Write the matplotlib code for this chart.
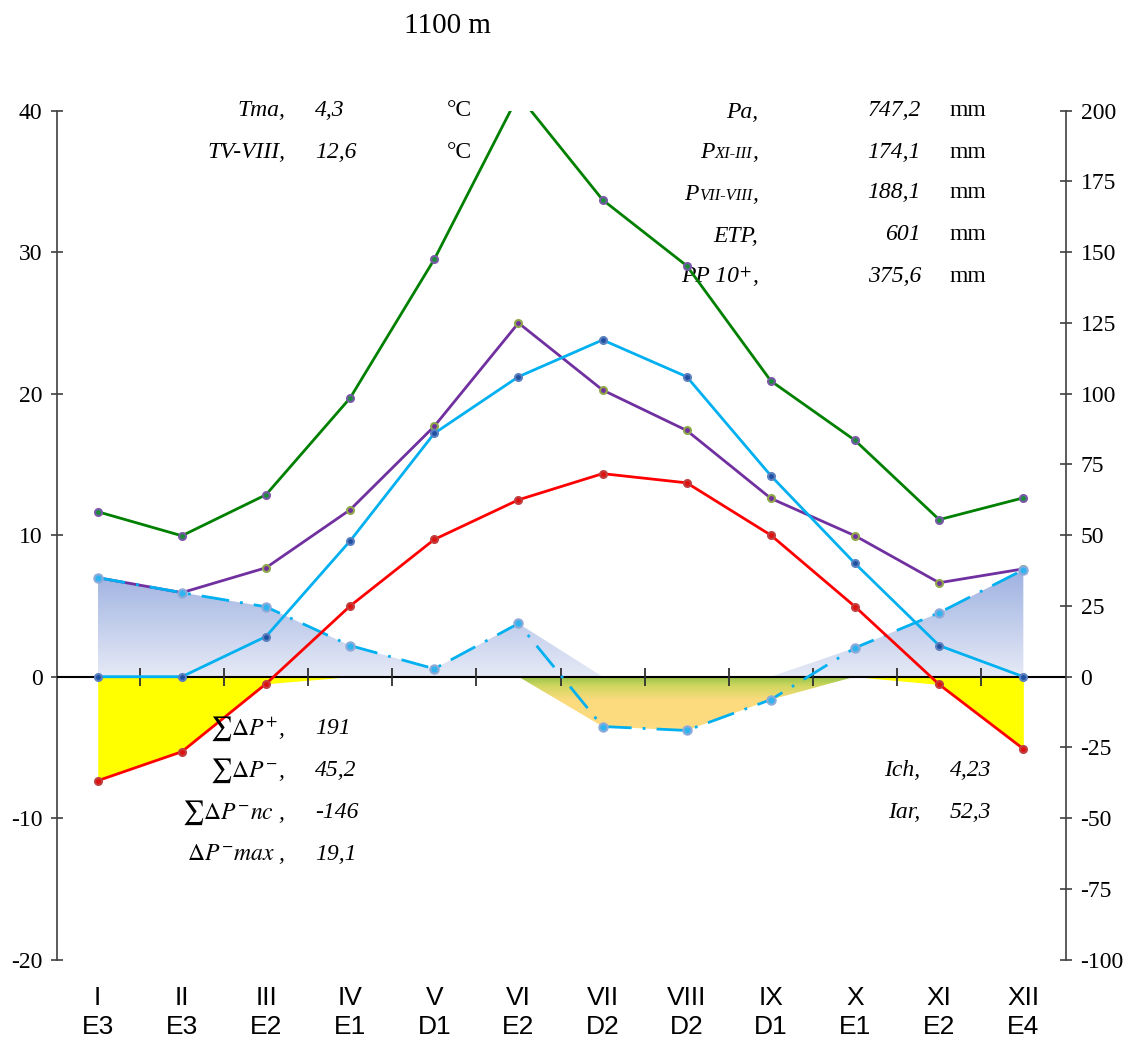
import numpy as np
import matplotlib
matplotlib.use("Agg")
import matplotlib.pyplot as plt
import matplotlib.transforms as mtransforms
from matplotlib.colors import LinearSegmentedColormap
from matplotlib.offsetbox import TextArea, HPacker, AnnotationBbox

plt.rcParams['mathtext.fontset'] = 'stix'
plt.rcParams['axes.unicode_minus'] = False

# ---- data ----
months = ["I", "II", "III", "IV", "V", "VI", "VII", "VIII", "IX", "X", "XI", "XII"]
zones = ["E3", "E3", "E2", "E1", "D1", "E2", "D2", "D2", "D1", "E1", "E2", "E4"]
temp = [-7.35, -5.3, -0.5, 5.0, 9.7, 12.5, 14.35, 13.7, 10.0, 4.95, -0.55, -5.1]        # °C, left axis
precip = [35.0, 29.7, 38.5, 59.0, 88.5, 125.0, 101.3, 87.0, 63.0, 49.8, 33.2, 38.1]     # mm, right axis
etp = [0.0, 0.0, 14.2, 48.0, 86.0, 106.0, 119.0, 106.0, 71.0, 40.0, 11.0, 0.0]         # mm
upper = [58.3, 49.8, 64.3, 98.5, 147.5, 205.5, 168.5, 145.2, 104.5, 83.5, 55.5, 63.2]  # mm
balance = [35.0, 29.7, 24.7, 11.0, 2.8, 18.8, -17.6, -19.0, -8.1, 10.2, 22.6, 37.8]    # mm

title = "1100 m"
left_top = [("Tma,", "4,3", "°C"), ("TV-VIII,", "12,6", "°C")]
right_top = [([("Pa,", 17)], "747,2"),
             ([("P", 17), ("XI-III", 12), (",", 17)], "174,1"),
             ([("P", 17), ("VII-VIII", 12), (",", 17)], "188,1"),
             ([("ETP,", 17)], "601"),
             ([("PP 10", 17), (r"$^{+}$", 17), (",", 17)], "375,6")]
left_bottom = [(r"$\sum\Delta P^{+}$,", "191"), (r"$\sum\Delta P^{-}$,", "45,2"),
               (r"$\sum\Delta P^{-}nc$ ,", "-146"), (r"$\Delta P^{-}max$ ,", "19,1")]
right_bottom = [("Ich,", "4,23"), ("Iar,", "52,3")]

W, H = 1126, 1040
fig = plt.figure(figsize=(W / 100, H / 100), dpi=100)
ax = fig.add_axes([57 / W, 1 - 959.7 / H, (1066 - 57) / W, (959.7 - 110.7) / H])
axp = ax.twinx()

x = np.arange(len(months))
ax.set_xlim(-0.484, 11.507)
ax.set_ylim(-20, 40)
axp.set_ylim(-100, 200)
axp.set_xlim(ax.get_xlim())

# temperature drawn on the precip axis with the 1 °C : 5 mm scale
t_trans = mtransforms.Affine2D().scale(1, 5) + axp.transData

# blue gradient (surplus)
pos = np.clip(balance, 0, None)
poly = axp.fill_between(x, 0, pos, color='none', lw=0)
blue = LinearSegmentedColormap.from_list("b", ["#e6eaf6", "#9eb1e1"])
im = axp.imshow(np.linspace(0, 1, 256).reshape(-1, 1), extent=[x[0], x[-1], 0, max(pos)],
                origin='lower', cmap=blue, aspect='auto', zorder=1)
im.set_clip_path(poly.get_paths()[0], axp.transData)

# green-yellow gradient (deficit)
neg = np.clip(balance, None, 0)
poly2 = axp.fill_between(x, 0, neg, color='none', lw=0)
gy = LinearSegmentedColormap.from_list("g", [(0, "#fddc82"), (0.55, "#fcdb7e"),
                                             (0.82, "#d0d660"), (1, "#92c446")])
im2 = axp.imshow(np.linspace(0, 1, 256).reshape(-1, 1), extent=[x[0], x[-1], min(neg), 0],
                 origin='lower', cmap=gy, aspect='auto', zorder=1)
im2.set_clip_path(poly2.get_paths()[0], axp.transData)

# yellow (frost) fill
axp.fill_between(x, 0, np.minimum(temp, 0), color='#ffff00', lw=0, zorder=1.2, transform=t_trans)

axp.set_xlim(ax.get_xlim())
axp.set_ylim(-100, 200)

# zero line and month separators
axp.axhline(0, color='black', lw=1.5, zorder=2)
axp.vlines(np.arange(0.5, 11), -3.2, 3.2, color='#303030', lw=1.3, zorder=2)

ms = 5
axp.plot(x, upper, color='#008000', lw=2, marker='o', ms=ms, mfc='#1a8c3a', mec='#7a5aa8', mew=1.5, zorder=3)
axp.plot(x, precip, color='#7030a0', lw=2, marker='o', ms=ms, mfc='#7030a0', mec='#8fa84a', mew=1.5, zorder=3)
axp.plot(x, balance, color='#00b0f0', lw=2, ls=(0, (10, 4, 1, 4)), marker='o', ms=ms + 1,
         mfc='#30b4f0', mec='#8faad8', mew=1.5, zorder=3)
axp.plot(x, etp, color='#00b0f0', lw=2, marker='o', ms=ms, mfc='#2050a0', mec='#5a80c0', mew=1.5, zorder=3.5)
axp.plot(x, temp, color='#ff0000', lw=2, marker='o', ms=ms, mfc='#e01010', mec='#c04040', mew=1.5,
         zorder=4, transform=t_trans)

# axes styling
for a in (ax, axp):
    for s in ('top', 'bottom'):
        a.spines[s].set_visible(False)
    a.set_xticks([])
ax.spines['right'].set_visible(False)
axp.spines['left'].set_visible(False)
ax.spines['left'].set_color('#404040')
axp.spines['right'].set_color('#404040')
ax.spines['left'].set_linewidth(1.2)
axp.spines['right'].set_linewidth(1.2)
ax.set_yticks(np.arange(-20, 41, 10))
axp.set_yticks(np.arange(-100, 201, 25))
for a in (ax, axp):
    a.tick_params(axis='y', direction='inout', length=9, width=1.2, color='#404040', pad=6,
                  labelsize=17, labelfontfamily='Liberation Serif')

# month labels
bt = mtransforms.blended_transform_factory(ax.transData, ax.transAxes)
for i, (m, z) in enumerate(zip(months, zones)):
    ax.text(i, -0.0451, m, transform=bt, ha='center', va='center', fontsize=19, family='Liberation Sans')
    ax.text(i, -0.0793, z, transform=bt, ha='center', va='center', fontsize=19, family='Liberation Sans')

def fp(px, py):
    return px / W, 1 - py / H

serif = dict(family='Liberation Serif', fontsize=17)
fig.text(*fp(447, 26), title, ha='center', va='center', family='Liberation Serif', fontsize=21)

for k, (lab, val, unit) in enumerate(left_top):
    y = 111 + k * 41
    fig.text(*fp(285, y), lab, ha='right', va='center', style='italic', **serif)
    fig.text(*fp(315, y), val, ha='left', va='center', style='italic', **serif)
    fig.text(*fp(447, y), unit, ha='left', va='center', **serif)

for k, (parts, val) in enumerate(right_top):
    y = [111, 152, 193, 235, 276][k]
    box = HPacker(children=[TextArea(s, textprops=dict(family='Liberation Serif', fontsize=sz, style='italic'))
                            for s, sz in parts], pad=0, sep=0, align='baseline')
    ab = AnnotationBbox(box, fp(758, y + 1), xycoords='figure fraction', box_alignment=(1, 0.5),
                        frameon=False, pad=0, zorder=2.5)
    axp.add_artist(ab)
    fig.text(*fp(921, y), val, ha='right', va='center', style='italic', **serif)
    fig.text(*fp(950, y), "mm", ha='left', va='center', **serif)

for k, (lab, val) in enumerate(left_bottom):
    y = [729, 771, 813, 854][k]
    fig.text(*fp(285, y), lab, ha='right', va='center', style='italic', **serif)
    fig.text(*fp(315, y), val, ha='left', va='center', style='italic', **serif)

for k, (lab, val) in enumerate(right_bottom):
    y = [771, 813][k]
    fig.text(*fp(920, y), lab, ha='right', va='center', style='italic', **serif)
    fig.text(*fp(950, y), val, ha='left', va='center', style='italic', **serif)

fig.savefig("out.png", dpi=100, facecolor='white')
